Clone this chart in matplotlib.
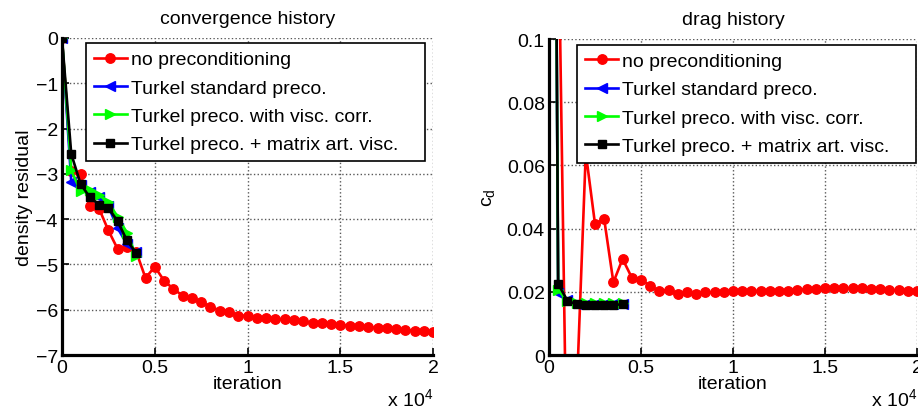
import matplotlib
matplotlib.use("Agg")
import matplotlib.pyplot as plt
from matplotlib.ticker import FuncFormatter

plt.rcParams["font.family"] = ["Liberation Sans", "DejaVu Sans"]
plt.rcParams["mathtext.fontset"] = "custom"
plt.rcParams["mathtext.rm"] = "Liberation Sans"

# iterations
iter_red = [0, 500, 1000, 1500, 2000, 2500, 3000, 3500, 4000, 4500,
            5000, 5500, 6000, 6500, 7000, 7500, 8000, 8500, 9000, 9500,
            10000, 10500, 11000, 11500, 12000, 12500, 13000, 13500, 14000, 14500,
            15000, 15500, 16000, 16500, 17000, 17500, 18000, 18500, 19000, 19500,
            20000]
iter_turkel = [0, 500, 1000, 1500, 2000, 2500, 3000, 3500, 4000]

labels = ["no preconditioning", "Turkel standard preco.",
          "Turkel preco. with visc. corr.", "Turkel preco. + matrix art. visc."]

# density residual (log10)
res_none = [0, -2.93, -3.00, -3.70, -3.77, -4.25, -4.66, -4.62, -4.72, -5.30,
            -5.05, -5.36, -5.54, -5.69, -5.75, -5.84, -5.93, -6.02, -6.04, -6.13,
            -6.13, -6.18, -6.19, -6.20, -6.21, -6.22, -6.26, -6.29, -6.30, -6.32,
            -6.33, -6.36, -6.37, -6.39, -6.40, -6.41, -6.43, -6.45, -6.46, -6.47,
            -6.49]
res_std = [0, -3.17, -3.25, -3.40, -3.52, -3.72, -4.20, -4.55, -4.72]
res_visc = [0, -2.92, -3.38, -3.35, -3.47, -3.63, -3.95, -4.30, -4.82]
res_matrix = [0, -2.56, -3.22, -3.52, -3.68, -3.75, -4.05, -4.47, -4.75]

# drag coefficient
cd_none = [0.30, 0.142, -0.05, -0.013, 0.064, 0.0415, 0.043, 0.023, 0.0304, 0.0245,
           0.0238, 0.0219, 0.0202, 0.0207, 0.0192, 0.0198, 0.0193, 0.0198, 0.0198, 0.0200,
           0.0201, 0.0201, 0.0203, 0.0203, 0.0203, 0.0204, 0.0204, 0.0206, 0.0208, 0.0210,
           0.0211, 0.0212, 0.0212, 0.0212, 0.0211, 0.0209, 0.0208, 0.0206, 0.0205, 0.0203,
           0.0201]
cd_std = [0.5, 0.0195, 0.0175, 0.0162, 0.0160, 0.0160, 0.0160, 0.0160, 0.0160]
cd_visc = [0.5, 0.0205, 0.0172, 0.0165, 0.0164, 0.0164, 0.0164, 0.0164, 0.0165]
cd_matrix = [0.5, 0.0225, 0.0172, 0.0160, 0.0159, 0.0159, 0.0159, 0.0159, 0.0160]

FS = 14
LW = 1.9


def style_axes(ax, yticks, yfmt):
    for side in ["top", "right"]:
        ax.spines[side].set_visible(False)
    for side in ["left", "bottom"]:
        ax.spines[side].set_linewidth(2.3)
    ax.set_xlim(0, 20000)
    ax.set_xticks([0, 5000, 10000, 15000, 20000])
    ax.xaxis.set_major_formatter(FuncFormatter(lambda v, p: "%g" % (v / 1e4)))
    ax.set_yticks(yticks)
    ax.yaxis.set_major_formatter(FuncFormatter(yfmt))
    ax.tick_params(direction="in", length=5, width=1.2, labelsize=FS, pad=3)
    ax.grid(True, linestyle=":", color="0.35", linewidth=1.0)
    ax.set_xlabel("iteration", fontsize=FS, labelpad=-1)
    ax.text(1.0, -0.162, r"x 10$^{4}$", transform=ax.transAxes,
            fontsize=FS, ha="right", va="baseline")


def draw(ax, yn, ys, yv, ym):
    ax.plot(iter_red, yn, "-o", color="red", lw=LW, ms=6.8, label=labels[0])
    ax.plot(iter_turkel, ys, "-<", color="blue", lw=LW, ms=6.8, label=labels[1])
    ax.plot(iter_turkel, yv, "->", color="lime", lw=LW, ms=6.8, label=labels[2])
    ax.plot(iter_turkel, ym, "-s", color="black", lw=LW, ms=5.8, label=labels[3])


fig = plt.figure(figsize=(9.18, 4.10), dpi=100)
ax1 = fig.add_axes([0.0675, 0.1317, 0.4045, 0.7732])
ax2 = fig.add_axes([0.598, 0.1317, 0.401, 0.7707])

draw(ax1, res_none, res_std, res_visc, res_matrix)
style_axes(ax1, [0, -1, -2, -3, -4, -5, -6, -7], lambda v, p: "%d" % v if v == 0 else "\u2212%d" % -v)
ax1.set_ylim(-7, 0)
ax1.set_title("convergence history", fontsize=FS, pad=11)
ax1.set_ylabel("density residual", fontsize=FS, labelpad=2)

draw(ax2, cd_none, cd_std, cd_visc, cd_matrix)
style_axes(ax2, [0, 0.02, 0.04, 0.06, 0.08, 0.1], lambda v, p: "%g" % v)
ax2.set_ylim(0, 0.1)
ax2.set_title("drag history", fontsize=FS, pad=11)
ax2.set_ylabel(r"c$_{\mathrm{d}}$", fontsize=FS, labelpad=6)

for ax, box in [(ax1, (0.0647, 0.5, 0.913, 0.484)), (ax2, (0.077, 0.5, 0.92, 0.482))]:
    leg = ax.legend(loc="upper left", bbox_to_anchor=box, mode="expand", fontsize=FS,
                    fancybox=False, framealpha=1, edgecolor="black",
                    handlelength=1.7, handletextpad=0.2, labelspacing=0.55,
                    borderpad=0.4, borderaxespad=0)
    leg.get_frame().set_linewidth(1.2)

fig.savefig("out.png", dpi=100)
